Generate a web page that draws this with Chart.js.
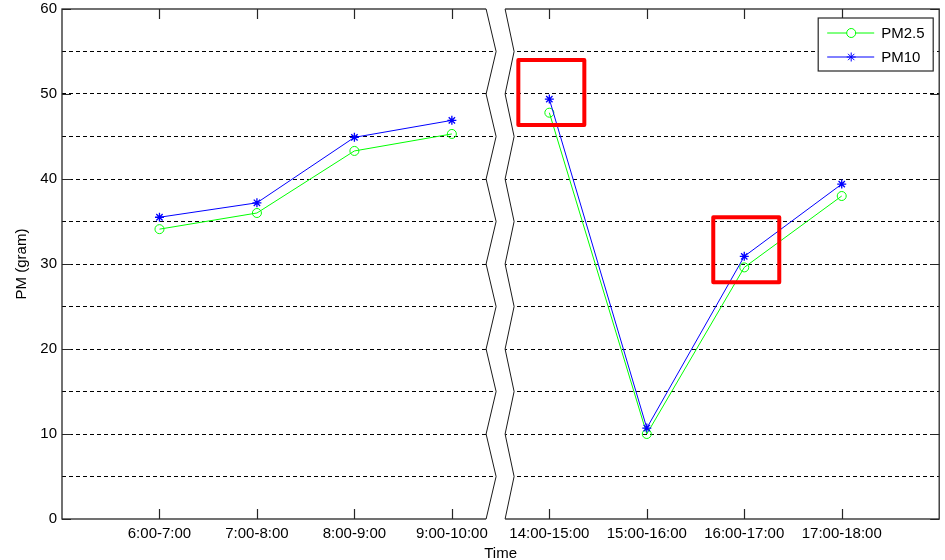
<!DOCTYPE html>
<html>
<head>
<meta charset="utf-8">
<script src="https://cdn.jsdelivr.net/npm/chart.js@4.4.1/dist/chart.umd.min.js"></script>
<style>
  html, body { margin: 0; padding: 0; background: #fff; }
  #wrap { width: 945px; height: 560px; }
</style>
</head>
<body>
<div id="wrap"><canvas id="c" width="945" height="560"></canvas></div>
<script>
// Hourly particulate readings (morning block, then afternoon block)
const timeSlots = ['6:00-7:00', '7:00-8:00', '8:00-9:00', '9:00-10:00',
                   '14:00-15:00', '15:00-16:00', '16:00-17:00', '17:00-18:00'];
const pm25 = [34.1, 36.0, 43.3, 45.3, 47.8, 10.0, 29.6, 38.0];
const pm10 = [35.5, 37.2, 44.9, 46.9, 49.4, 10.7, 30.9, 39.4];
const yTickLabels = [0, 10, 20, 30, 40, 50, 60];
const breakAfter = 3;          // gap in time between 9:00-10:00 and 14:00-15:00
const flaggedSlots = [4, 6];   // slots outlined in red

const FONT = "'Liberation Sans', Arial, Helvetica, sans-serif";
Chart.defaults.font.family = FONT;
Chart.defaults.color = '#000';

const toPoints = vals => vals.map((v, i) => ({ x: i + 1, y: v }));
const hideAcrossBreak = ctx => ctx.p0DataIndex === breakAfter ? 'rgba(0,0,0,0)' : undefined;

// Axes box, inward ticks, axis break, highlight boxes and legend
const decorations = {
  id: 'decorations',
  afterDraw(chart) {
    const { ctx, chartArea: { left, right, top, bottom }, scales: { x, y } } = chart;
    ctx.save();

    // axes box
    ctx.strokeStyle = '#262626';
    ctx.lineWidth = 1.3;
    ctx.strokeRect(left, top, right - left, bottom - top);

    // inward tick marks
    ctx.lineWidth = 1.2;
    ctx.beginPath();
    timeSlots.forEach((_, i) => {
      const px = Math.round(x.getPixelForValue(i + 1)) + 0.5;
      ctx.moveTo(px, bottom); ctx.lineTo(px, bottom - 10);
      ctx.moveTo(px, top); ctx.lineTo(px, top + 10);
    });
    yTickLabels.forEach(v => {
      const py = Math.round(y.getPixelForValue(v)) + 0.5;
      ctx.moveTo(left, py); ctx.lineTo(left + 9, py);
      ctx.moveTo(right, py); ctx.lineTo(right - 9, py);
    });
    ctx.stroke();

    // axis break: blank band between two parallel zigzags
    const cx = x.getPixelForValue(breakAfter + 1.5);
    const leftZig = [], rightZig = [];
    for (let v = 0; v <= 60; v += 5) {
      const py = y.getPixelForValue(v);
      const out = (v % 10 === 0) ? 0 : 1;
      leftZig.push([cx - 14.5 + out * 10, py]);
      rightZig.push([cx + 4.5 + out * 9, py]);
    }
    ctx.fillStyle = '#fff';
    ctx.beginPath();
    ctx.moveTo(leftZig[0][0], leftZig[0][1] + 3);
    leftZig.forEach(p => ctx.lineTo(p[0], p[1]));
    ctx.lineTo(leftZig[leftZig.length - 1][0], leftZig[leftZig.length - 1][1] - 3);
    ctx.lineTo(rightZig[rightZig.length - 1][0], rightZig[rightZig.length - 1][1] - 3);
    for (let k = rightZig.length - 1; k >= 0; k--) ctx.lineTo(rightZig[k][0], rightZig[k][1]);
    ctx.lineTo(rightZig[0][0], rightZig[0][1] + 3);
    ctx.closePath();
    ctx.fill();
    ctx.strokeStyle = '#1a1a1a';
    ctx.lineWidth = 1;
    [leftZig, rightZig].forEach(z => {
      ctx.beginPath();
      z.forEach((p, k) => k ? ctx.lineTo(p[0], p[1]) : ctx.moveTo(p[0], p[1]));
      ctx.stroke();
    });

    // red outlines around flagged readings
    ctx.strokeStyle = '#ff0000';
    ctx.lineWidth = 4;
    ctx.lineJoin = 'round';
    flaggedSlots.forEach(i => {
      const px = x.getPixelForValue(i + 1);
      const py = y.getPixelForValue(pm10[i]);
      ctx.strokeRect(px - 31, py - 39, 66, 65);
    });

    // legend
    const lx = right - 121, ly = top + 9, lw = 115, lh = 53;
    ctx.fillStyle = '#fff';
    ctx.fillRect(lx, ly, lw, lh);
    ctx.strokeStyle = '#262626';
    ctx.lineWidth = 1.2;
    ctx.lineJoin = 'miter';
    ctx.strokeRect(lx, ly, lw, lh);
    chart.data.datasets.forEach((ds, k) => {
      const ry = ly + 15 + k * 24;
      ctx.strokeStyle = ds.borderColor;
      ctx.lineWidth = 1;
      ctx.beginPath();
      ctx.moveTo(lx + 9, ry); ctx.lineTo(lx + 56, ry);
      ctx.stroke();
      Chart.helpers.drawPoint(ctx, {
        pointStyle: ds.pointStyle, radius: ds.pointRadius, borderWidth: ds.pointBorderWidth
      }, lx + 33, ry);
      ctx.fillStyle = '#000';
      ctx.font = "15px " + FONT;
      ctx.textBaseline = 'middle';
      ctx.textAlign = 'left';
      ctx.fillText(ds.label, lx + 63, ry + 1);
    });
    ctx.restore();
  }
};

new Chart(document.getElementById('c'), {
  type: 'line',
  data: {
    datasets: [
      {
        label: 'PM2.5', data: toPoints(pm25), order: 1,
        borderColor: '#00ff00', borderWidth: 1,
        pointStyle: 'circle', pointRadius: 4.5, pointBorderWidth: 1,
        pointBorderColor: '#00ff00', pointBackgroundColor: 'rgba(0,0,0,0)',
        segment: { borderColor: hideAcrossBreak }
      },
      {
        label: 'PM10', data: toPoints(pm10), order: 0,
        borderColor: '#0000ff', borderWidth: 1,
        pointStyle: 'star', pointRadius: 4.5, pointBorderWidth: 1.3,
        pointBorderColor: '#0000ff', pointBackgroundColor: '#0000ff',
        segment: { borderColor: hideAcrossBreak }
      }
    ]
  },
  options: {
    responsive: false,
    animation: false,
    devicePixelRatio: 1,
    layout: { padding: { top: 9, right: 2, left: 0, bottom: 0 } },
    plugins: { legend: { display: false }, tooltip: { enabled: false } },
    elements: { line: { tension: 0 } },
    scales: {
      x: {
        type: 'linear', min: 0, max: 9,
        afterBuildTicks: s => { s.ticks = timeSlots.map((_, i) => ({ value: i + 1 })); },
        afterFit: s => { s.height = 41; s.paddingLeft = 0; s.paddingRight = 0; },
        ticks: {
          autoSkip: false, maxRotation: 0, padding: 6,
          font: { size: 15 },
          callback: v => timeSlots[v - 1] ?? ''
        },
        grid: { display: false, drawTicks: false },
        border: { display: false },
        title: {
          display: true, text: 'Time',
          font: { size: 15 }, padding: { top: 0, bottom: -3 }
        }
      },
      y: {
        min: 0, max: 60,
        afterFit: s => { s.width = 62; s.paddingTop = 0; s.paddingBottom = 0; },
        ticks: {
          stepSize: 5, padding: 5,
          font: { size: 15 },
          callback: v => yTickLabels.includes(v) ? v : ''
        },
        grid: {
          drawTicks: false, lineWidth: 1,
          color: c => (c.tick && (c.tick.value === 0 || c.tick.value === 60)) ? 'rgba(0,0,0,0)' : '#000'
        },
        border: { display: false, dash: [4, 3] },
        title: {
          display: true, text: 'PM (gram)',
          font: { size: 15 }, padding: { top: 13, bottom: 0 }
        }
      }
    }
  },
  plugins: [decorations]
});
</script>
</body>
</html>
